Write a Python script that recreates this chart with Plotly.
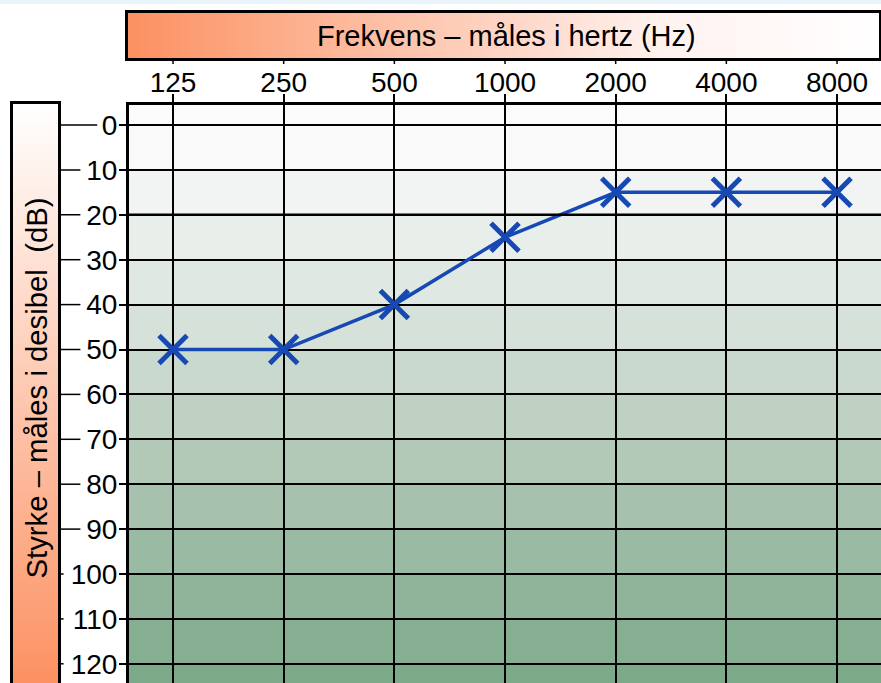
import plotly.graph_objects as go

# ---- data ----
FREQS = [125, 250, 500, 1000, 2000, 4000, 8000]
FREQ_LABELS = ["125", "250", "500", "1000", "2000", "4000", "8000"]
THRESHOLD_DB = [50, 50, 40, 25, 15, 15, 15]
DB_TICKS = [0, 10, 20, 30, 40, 50, 60, 70, 80, 90, 100, 110, 120]
NORMAL_LIMIT = 20
X_TITLE = "Frekvens – måles i hertz (Hz)"
Y_TITLE = "Styrke – måles i desibel\u00a0 (dB)"

# ---- style ----
PAGE_MARGIN = 0          # body margin removed by post_script below
VW, VH = 881, 683        # browser window
W, H = VW - PAGE_MARGIN, VH - PAGE_MARGIN
BLUE = "#1649b4"
ORANGE = "#fc9162"
FONT = "Liberation Sans, Arial, sans-serif"
BAND_EDGES = [-10, 0, 10, 20, 30, 40, 50, 60, 70, 80, 90, 100, 110, 120, 130]
BAND_COLORS = ["#fcfcfc", "#f8f9f8", "#f1f4f2", "#e8eee9", "#dfe8e2", "#d5e1d9",
               "#cad9ce", "#bed1c3", "#b2c9b8", "#a6c1ad", "#9bbaa3", "#90b499",
               "#86ae90", "#7daa88"]


def px_x(p):
    return (p - PAGE_MARGIN) / W


def px_y(p):
    return 1 - (p - PAGE_MARGIN) / H


fig = go.Figure()

# main audiogram line
fig.add_trace(go.Scatter(
    x=FREQS, y=THRESHOLD_DB, mode="lines+markers",
    line=dict(color=BLUE, width=3.5),
    marker=dict(symbol="x-thin", size=28, line=dict(color=BLUE, width=5)),
    xaxis="x", yaxis="y", hoverinfo="skip"))

# header gradient box
fig.add_trace(go.Scatter(
    x=[0, 1, 1, 0, 0], y=[0, 0, 1, 1, 0], mode="lines", fill="toself",
    line=dict(width=0),
    fillgradient=dict(type="horizontal",
                      colorscale=[[0, ORANGE], [0.72, "#fff3f0"], [1, "#ffffff"]]),
    xaxis="x2", yaxis="y2", hoverinfo="skip"))

# left gradient box
fig.add_trace(go.Scatter(
    x=[0, 1, 1, 0, 0], y=[0, 0, 1, 1, 0], mode="lines", fill="toself",
    line=dict(width=0),
    fillgradient=dict(type="vertical", colorscale=[[0, ORANGE], [1, "#ffffff"]]),
    xaxis="x3", yaxis="y3", hoverinfo="skip"))

shapes = []
# stepped background bands
for i, c in enumerate(BAND_COLORS):
    shapes.append(dict(type="rect", xref="x domain", yref="y", x0=0, x1=1,
                       y0=BAND_EDGES[i], y1=BAND_EDGES[i + 1], fillcolor=c,
                       line=dict(width=0), layer="below"))
# thicker normal-hearing limit line
shapes.append(dict(type="line", xref="x domain", yref="y", x0=0, x1=1,
                   y0=NORMAL_LIMIT, y1=NORMAL_LIMIT, line=dict(color="black", width=2.6)))
# ticks under the header box
for f in FREQS:
    shapes.append(dict(type="line", xref="x", yref="paper", x0=f, x1=f,
                       y0=px_y(58), y1=px_y(64), line=dict(color="black", width=1.5)))
# leader lines from left box to y tick labels
DIGIT_W = 16.8
for v in DB_TICKS:
    wlab = len(str(v)) * DIGIT_W
    shapes.append(dict(type="line", xref="paper", yref="y",
                       x0=px_x(58), x1=px_x(117 - wlab - 3), y0=v, y1=v,
                       line=dict(color="black", width=1.5)))
# light blue strip at the top of the page
shapes.append(dict(type="rect", xref="paper", yref="paper", x0=0, x1=1,
                   y0=px_y(4), y1=1, fillcolor="#eaf4fb", line=dict(width=0)))

box_axis = dict(range=[0, 1], showgrid=False, zeroline=False, showticklabels=False,
                ticks="", fixedrange=True, showline=True, linecolor="black", linewidth=3)

# y range: 0 dB at page y=125, 4.49 px per dB, plot top at page y=104.5
DB_PX = 4.49
Y_TOP = -(125 - 104.5) / DB_PX
Y_BOT = (PAGE_MARGIN + H - 125) / DB_PX

fig.update_layout(
    width=W, height=H,
    margin=dict(l=0, r=0, t=0, b=0),
    paper_bgcolor="white", plot_bgcolor="white",
    showlegend=False,
    font=dict(family=FONT, color="black"),
    xaxis=dict(type="log", domain=[px_x(129), 1], range=[1.9772, 4.0227],
               side="top", tickvals=FREQS, ticktext=FREQ_LABELS,
               showgrid=True, gridcolor="black", gridwidth=1.5,
               showline=True, linecolor="black", linewidth=3,
               ticks="outside", ticklen=8, tickwidth=1.5, tickcolor="black",
               ticklabelstandoff=-10,
               tickfont=dict(size=28, family=FONT), zeroline=False, anchor="y"),
    yaxis=dict(domain=[0, px_y(104.5)], range=[Y_BOT, Y_TOP],
               tickvals=DB_TICKS, showgrid=True, gridcolor="black", gridwidth=1.5,
               showline=True, linecolor="black", linewidth=3,
               ticks="outside", ticklen=7, tickwidth=1.5, tickcolor="black",
               ticklabelstandoff=-4,
               tickfont=dict(size=28, family=FONT), zeroline=False, anchor="x"),
    xaxis2=dict(box_axis, domain=[px_x(128), px_x(879)], anchor="y2", mirror=True),
    yaxis2=dict(box_axis, domain=[px_y(58), px_y(13)], anchor="x2", mirror=True),
    xaxis3=dict(box_axis, domain=[px_x(13), px_x(58)], anchor="y3", side="top", mirror=False),
    yaxis3=dict(box_axis, domain=[0, px_y(104)], anchor="x3", mirror=True),
    shapes=shapes,
    annotations=[
        dict(text=X_TITLE, xref="paper", yref="paper", x=px_x(507), y=px_y(35.5),
             showarrow=False, font=dict(size=29, family=FONT, color="black"),
             xanchor="center", yanchor="middle"),
        dict(text=Y_TITLE, xref="paper", yref="paper", x=px_x(35.5), y=px_y(388),
             showarrow=False, textangle=-90, font=dict(size=29.3, family=FONT, color="black"),
             xanchor="center", yanchor="middle"),
    ],
)

fig.write_html("out.html",
               config={"displayModeBar": False},
               post_script="document.body.style.margin='0';"
                           "document.body.style.overflow='hidden';"
                           "document.documentElement.style.overflow='hidden';")
